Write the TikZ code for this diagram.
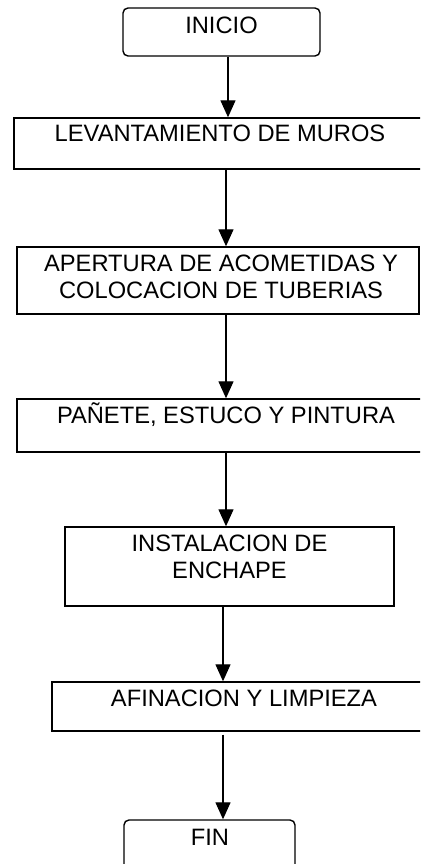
\documentclass[tikz,border=0pt]{standalone}
\usepackage{fontspec}
\setmainfont{Liberation Sans}
\usetikzlibrary{arrows.meta}
\begin{document}
\begin{tikzpicture}[x=1pt,y=-1pt,
  box/.style={draw=black,line width=1.4pt,fill=none,inner sep=0pt},
  roundbox/.style={box,rounded corners=5pt},
  txt/.style={inner sep=0pt,font=\fontsize{23.7}{27}\selectfont,align=center},
  arr/.style={line width=1.3pt,-{Triangle[width=15pt,length=17pt]}}]
\useasboundingbox (0,0) rectangle (420,864);
\clip (0,0) rectangle (420,864);
% boxes
\node[roundbox,minimum width=197pt,minimum height=48pt] (inicio) at (221.5,32) {};
\node[box,minimum width=416pt,minimum height=51pt] (b1) at (222,143.5) {};
\node[box,minimum width=402pt,minimum height=67pt] (b2) at (218,280.5) {};
\node[box,minimum width=418pt,minimum height=53pt] (b3) at (226,425.5) {};
\node[box,minimum width=329pt,minimum height=79pt] (b4) at (229.5,566.5) {};
\node[box,minimum width=384pt,minimum height=49pt] (b5) at (244,706.5) {};
\node[roundbox,minimum width=171pt,minimum height=60pt] (fin) at (209.5,850) {};
% texts
\node[txt,anchor=base] (tinicio) at (221.5,33.4) {INICIO};
\node[txt,anchor=base] (t1) at (220,141.4) {LEVANTAMIENTO DE MUROS};
\node[txt,anchor=north] (t2) at (221,254.5) {APERTURA DE ACOMETIDAS Y\\COLOCACION DE TUBERIAS};
\node[txt,anchor=base] (t3) at (226,423.4) {PAÑETE, ESTUCO Y PINTURA};
\node[txt,anchor=north] (t4) at (229.5,534.5) {INSTALACION DE\\ENCHAPE};
\node[txt,anchor=base] (t5) at (244,706.4) {AFINACION Y LIMPIEZA};
\node[txt,anchor=base] (tfin) at (210,845.4) {FIN};
% connector x positions
\coordinate (xa) at (228,0);
\coordinate (xb) at (226,0);
\coordinate (xc) at (223,0);
\draw[arr] (inicio.south -| xa) -- (b1.north -| xa);
\draw[arr] (b1.south -| xb) -- (b2.north -| xb);
\draw[arr] (b2.south -| xb) -- (b3.north -| xb);
\draw[arr] (b3.south -| xb) -- (b4.north -| xb);
\draw[arr] (b4.south -| xc) -- (b5.north -| xc);
\draw[arr] ([yshift=-3pt]b5.south -| xc) -- (fin.north -| xc);
\end{tikzpicture}
\end{document}
